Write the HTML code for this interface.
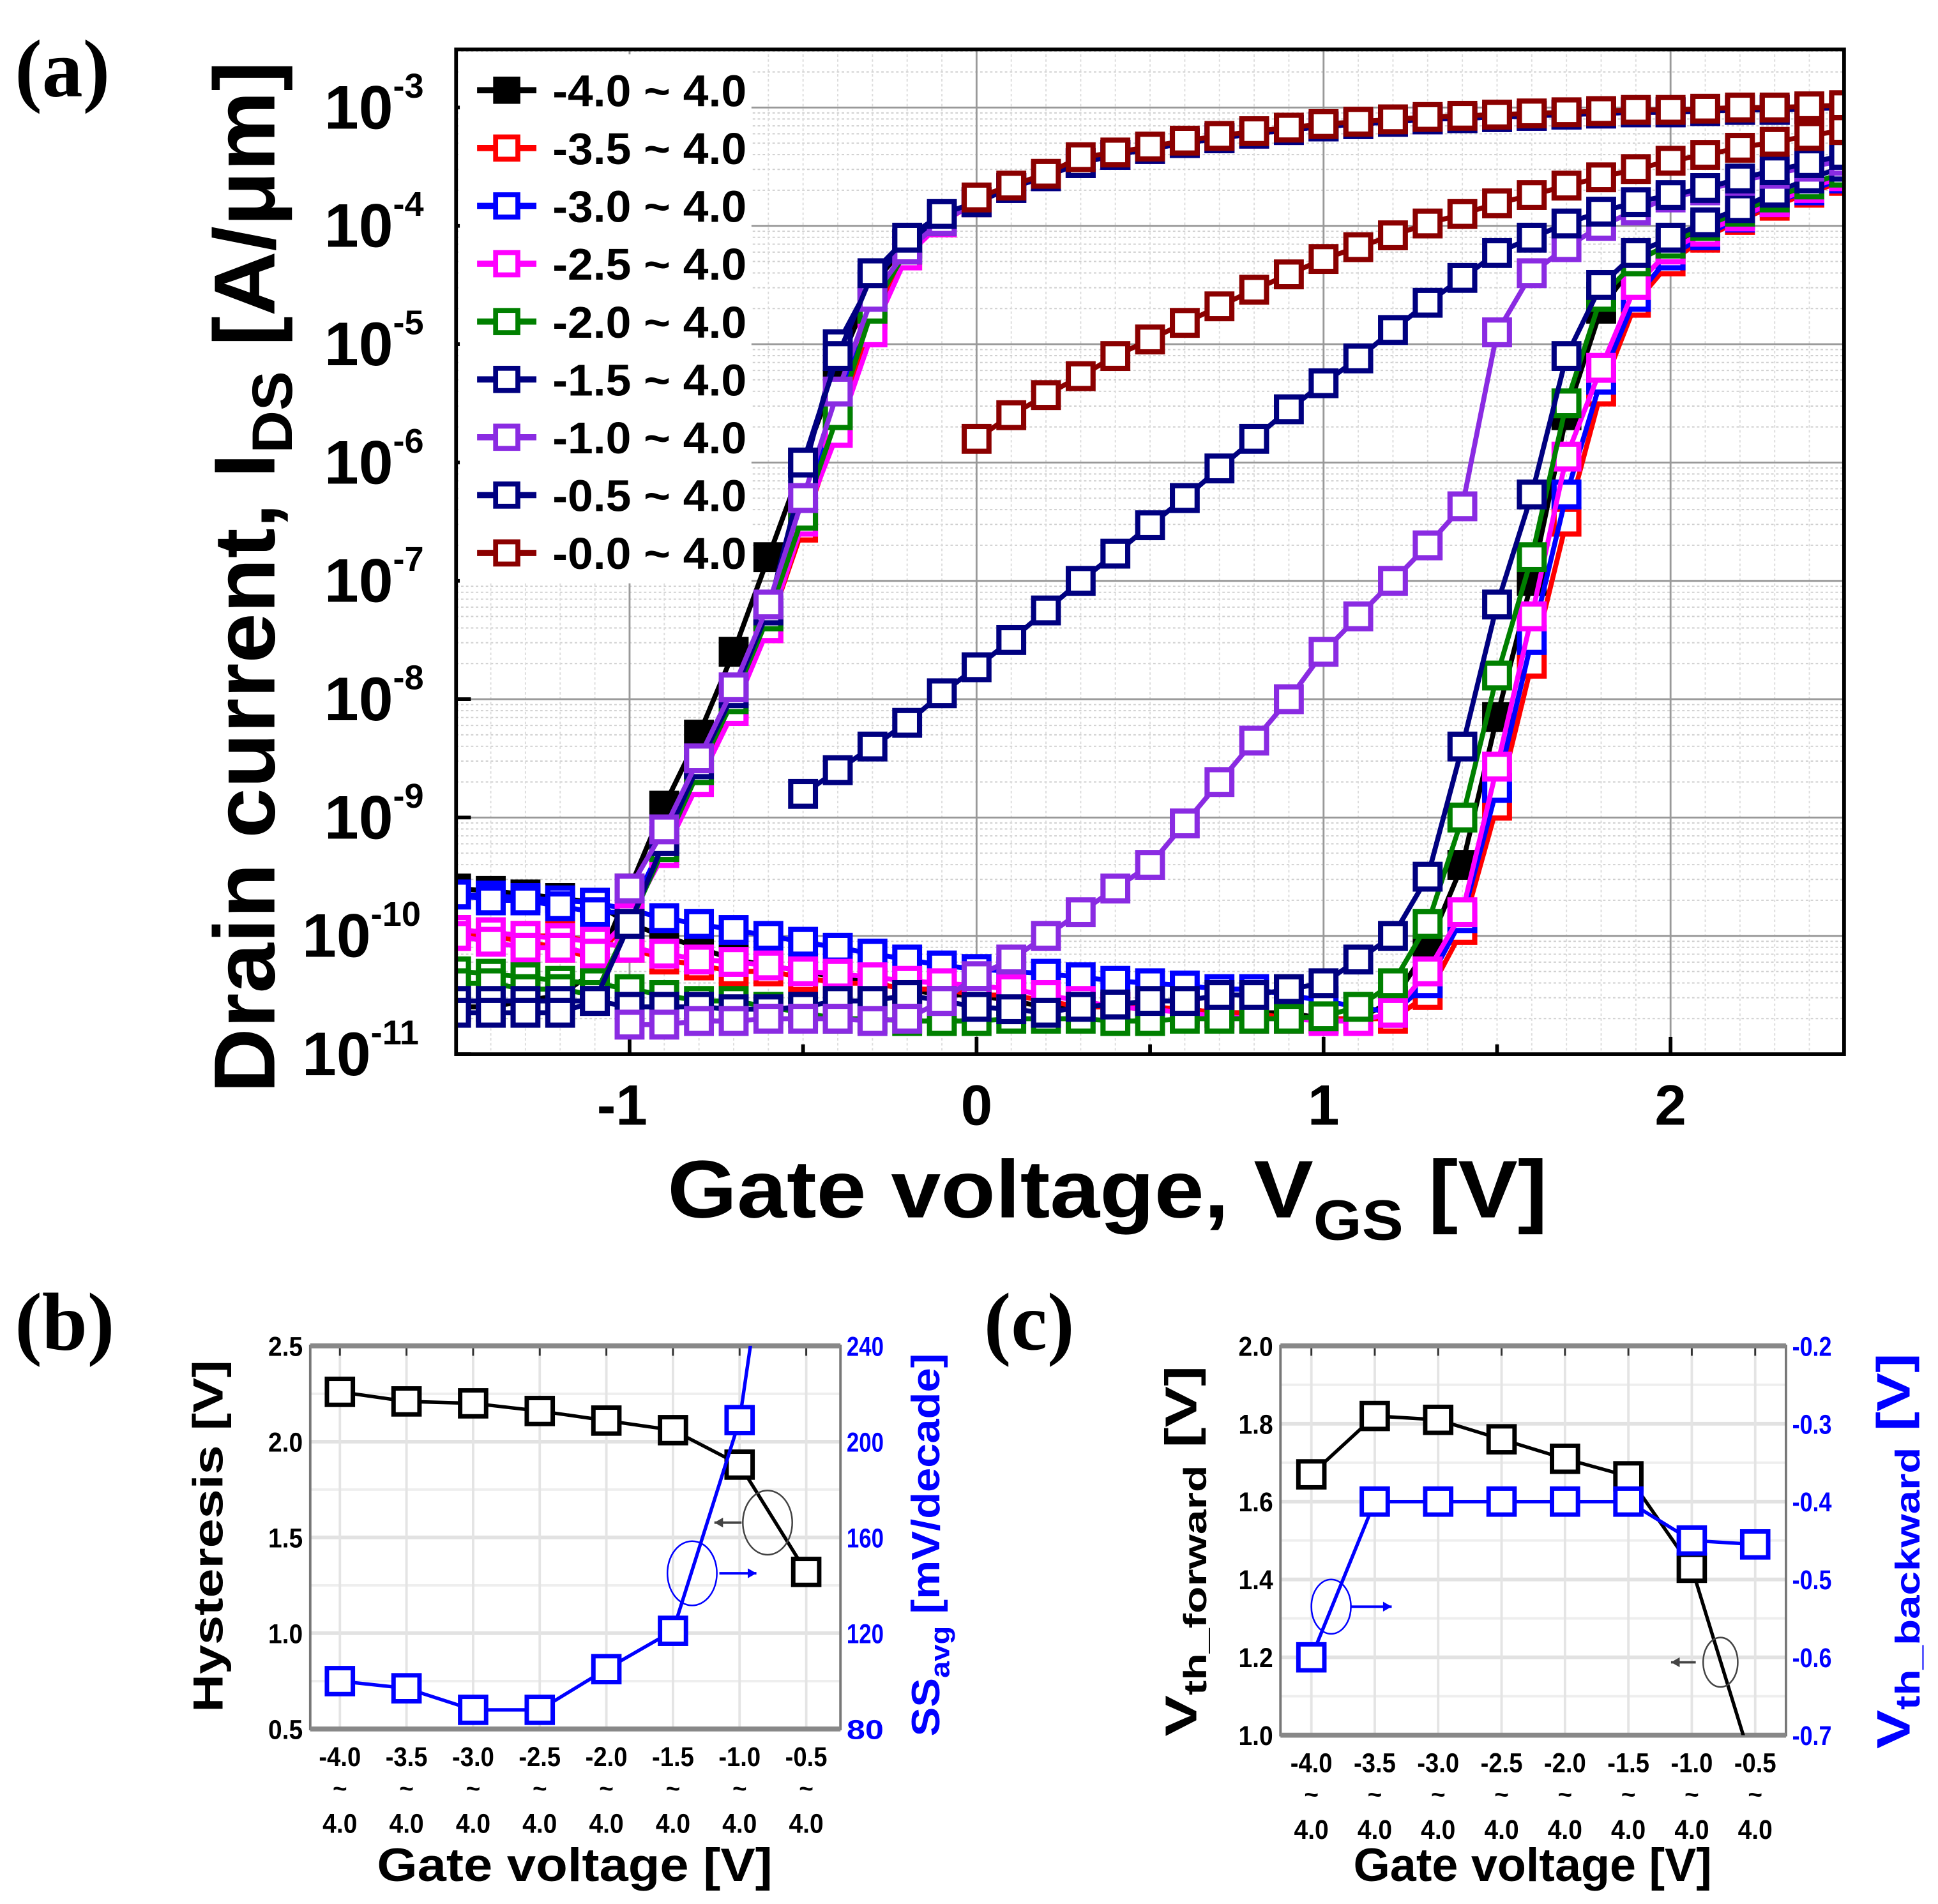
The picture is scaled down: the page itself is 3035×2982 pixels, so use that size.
<!DOCTYPE html>
<html><head><meta charset="utf-8"><style>
html,body{margin:0;padding:0;background:#fff;}
svg{display:block;}
text{font-family:"Liberation Sans",Arial,sans-serif;font-weight:bold;}
</style></head><body>
<svg id="fig" xmlns="http://www.w3.org/2000/svg" width="3035" height="2982" viewBox="0 0 1568 1540.6" preserveAspectRatio="none">
<rect x="0" y="0" width="1568" height="1541" fill="#fff"/>
<defs><clipPath id="clipA"><rect x="369" y="40" width="1123" height="813"/></clipPath>
<clipPath id="clipB"><rect x="251" y="1089" width="429" height="310"/></clipPath>
<clipPath id="clipC"><rect x="1036" y="1089" width="409" height="315"/></clipPath></defs>
<text x="12" y="78" font-size="66" style="font-family:'Liberation Serif',serif">(a)</text>
<text x="12" y="1092" font-size="66" style="font-family:'Liberation Serif',serif">(b)</text>
<text x="796" y="1092" font-size="66" style="font-family:'Liberation Serif',serif">(c)</text>
<g id="gA"></g>
<g id="gB"></g>
<g id="gC"></g>
<text transform="translate(222,467) rotate(-90)" text-anchor="middle" font-size="70" textLength="835" lengthAdjust="spacingAndGlyphs">Drain current, I<tspan font-size="46" dy="14">DS</tspan><tspan dy="-14"> [A/μm]</tspan></text>
<text x="540" y="985" font-size="66" textLength="712" lengthAdjust="spacingAndGlyphs">Gate voltage, V<tspan font-size="46" dy="18">GS</tspan><tspan dy="-18"> [V]</tspan></text>
<text transform="translate(180,1243) rotate(-90)" text-anchor="middle" font-size="34" textLength="285" lengthAdjust="spacingAndGlyphs">Hysteresis [V]</text>
<text transform="translate(760,1250) rotate(-90)" text-anchor="middle" font-size="32" fill="#0000ff" textLength="310" lengthAdjust="spacingAndGlyphs">SS<tspan font-size="22" dy="8">avg</tspan><tspan dy="-8"> [mV/decade]</tspan></text>
<text x="465" y="1522" text-anchor="middle" font-size="38" textLength="320" lengthAdjust="spacingAndGlyphs">Gate voltage [V]</text>
<text transform="translate(968,1255) rotate(-90)" text-anchor="middle" font-size="36" textLength="300" lengthAdjust="spacingAndGlyphs">V<tspan font-size="26" dy="8">th_forward</tspan><tspan dy="-8"> [V]</tspan></text>
<text transform="translate(1545,1255) rotate(-90)" text-anchor="middle" font-size="38" fill="#0000ff" textLength="320" lengthAdjust="spacingAndGlyphs">V<tspan font-size="28" dy="8">th_backward</tspan><tspan dy="-8"> [V]</tspan></text>
<text x="1240" y="1522" text-anchor="middle" font-size="38" textLength="290" lengthAdjust="spacingAndGlyphs">Gate voltage [V]</text>
</svg>
<script>
// ===== Panel (a) data: log10(I_DS) at V = -1.5 ... 2.5 step 0.1 =====
const vStart = -1.5;
const vStep = 0.1;
const seriesLabels = ["-4.0 ~ 4.0","-3.5 ~ 4.0","-3.0 ~ 4.0","-2.5 ~ 4.0","-2.0 ~ 4.0","-1.5 ~ 4.0","-1.0 ~ 4.0","-0.5 ~ 4.0","-0.0 ~ 4.0"];
const seriesColors = ["#000000","#ff0000","#0000ff","#ff00ff","#008000","#000080","#8a2be2","#000080","#8b0000"];
const N = null;
const fwdBlack = [-9.6,-9.62,-9.65,-9.68,-9.72,-9.9,-10.0,-10.1,-10.2,-10.25,-10.3,-10.35,-10.4,-10.45,-10.5,-10.5,-10.55,-10.6,-10.6,-10.6,-10.62,-10.62,-10.65,-10.65,-10.65,-10.7,-10.7,-10.55,-10.1,-9.4,-8.15,-7.0,-5.6,-4.7,-4.3,-4.15,-4.02,-3.9,-3.78,-3.68,-3.58];
const fwdRed = [-9.95,-9.97,-10.0,-10.0,-10.05,-10.1,-10.2,-10.25,-10.3,-10.3,-10.35,-10.4,-10.4,-10.45,-10.45,-10.5,-10.5,-10.55,-10.6,-10.6,-10.6,-10.62,-10.65,-10.65,-10.7,-10.7,-10.7,-10.7,-10.5,-9.95,-8.9,-7.7,-6.5,-5.4,-4.65,-4.3,-4.1,-3.95,-3.83,-3.72,-3.62];
const fwdBlue = [-9.65,-9.66,-9.68,-9.7,-9.72,-9.78,-9.85,-9.9,-9.95,-10.0,-10.05,-10.1,-10.15,-10.2,-10.25,-10.28,-10.3,-10.32,-10.35,-10.38,-10.4,-10.42,-10.45,-10.45,-10.5,-10.55,-10.6,-10.65,-10.4,-9.85,-8.75,-7.5,-6.27,-5.3,-4.6,-4.25,-4.08,-3.93,-3.8,-3.7,-3.6];
const fwdMagenta = [-9.95,-9.97,-10.0,-10.02,-10.05,-10.1,-10.15,-10.2,-10.22,-10.25,-10.3,-10.32,-10.35,-10.38,-10.4,-10.42,-10.45,-10.5,-10.55,-10.6,-10.62,-10.65,-10.68,-10.7,-10.7,-10.72,-10.72,-10.65,-10.3,-9.8,-8.57,-7.3,-5.95,-5.2,-4.5,-4.2,-4.05,-3.92,-3.8,-3.68,-3.58];
const fwdGreen = [-10.3,-10.32,-10.35,-10.38,-10.4,-10.45,-10.5,-10.55,-10.55,-10.6,-10.65,-10.7,-10.7,-10.72,-10.72,-10.72,-10.7,-10.7,-10.7,-10.72,-10.72,-10.7,-10.7,-10.7,-10.7,-10.68,-10.6,-10.4,-9.9,-9.0,-7.8,-6.8,-5.5,-4.6,-4.3,-4.15,-4.0,-3.88,-3.76,-3.65,-3.55];
const fwdNavy15 = [-10.55,-10.55,-10.55,-10.55,-10.55,-10.6,-10.6,-10.6,-10.62,-10.62,-10.6,-10.55,-10.55,-10.5,-10.55,-10.6,-10.62,-10.65,-10.6,-10.58,-10.55,-10.55,-10.5,-10.5,-10.45,-10.4,-10.2,-10.0,-9.5,-8.4,-7.2,-6.27,-5.1,-4.5,-4.23,-4.1,-3.97,-3.85,-3.72,-3.6,-3.5];
const fwdPurple = [N,N,N,N,N,-10.75,-10.75,-10.72,-10.72,-10.7,-10.7,-10.7,-10.72,-10.7,-10.55,-10.34,-10.2,-10.0,-9.8,-9.6,-9.4,-9.05,-8.7,-8.35,-8.0,-7.6,-7.3,-7.0,-6.7,-6.37,-4.9,-4.4,-4.18,-4.0,-3.87,-3.76,-3.7,-3.62,-3.56,-3.5,-3.45];
const fwdNavy05 = [N,N,N,N,N,N,N,N,N,N,-8.8,-8.6,-8.4,-8.2,-7.95,-7.73,-7.5,-7.25,-7.0,-6.77,-6.53,-6.3,-6.05,-5.8,-5.55,-5.33,-5.12,-4.88,-4.65,-4.44,-4.23,-4.1,-3.98,-3.88,-3.8,-3.74,-3.68,-3.6,-3.53,-3.47,-3.4];
const fwdDarkRed = [N,N,N,N,N,N,N,N,N,N,N,N,N,N,N,-5.8,-5.6,-5.43,-5.27,-5.1,-4.96,-4.82,-4.68,-4.54,-4.41,-4.28,-4.18,-4.08,-3.98,-3.9,-3.81,-3.74,-3.66,-3.59,-3.52,-3.45,-3.4,-3.34,-3.29,-3.24,-3.19];
// backward sweep, low-voltage part (V=-1.5..-0.1)
const bwdLowBlack = [-10.6,-10.6,-10.55,-10.5,-10.3,-9.6,-8.9,-8.3,-7.6,-6.8,-6.0,-5.2,-4.5,-4.15,-3.95];
const bwdLowRed = [-10.0,-10.0,-10.05,-10.1,-10.2,-9.85,-9.25,-8.65,-8.05,-7.4,-6.55,-5.7,-4.75,-4.25,-3.97];
const bwdLowBlue = [-9.65,-9.7,-9.7,-9.75,-9.8,-9.8,-9.2,-8.6,-8.0,-7.3,-6.4,-5.55,-4.65,-4.2,-3.96];
const bwdLowMagenta = [-10.0,-10.05,-10.1,-10.1,-10.15,-9.85,-9.3,-8.7,-8.1,-7.4,-6.5,-5.75,-4.9,-4.25,-3.97];
const bwdLowGreen = [-10.4,-10.4,-10.45,-10.45,-10.5,-9.9,-9.25,-8.6,-8.0,-7.3,-6.45,-5.6,-4.7,-4.2,-3.96];
const bwdLowNavy15 = [-10.65,-10.65,-10.65,-10.65,-10.55,-9.9,-9.2,-8.55,-7.95,-7.25,-6.1,-5.0,-4.45,-4.15,-3.93];
const bwdLowPurple = [N,N,N,N,N,-9.6,-9.1,-8.5,-7.9,-7.2,-6.3,-5.4,-4.6,-4.2,-3.96];
const bwdLowNavy05 = [N,N,N,N,N,N,N,N,N,N,-6.0,-5.1,-4.4,-4.1,-3.9];
const bwdLowDarkRed = [N,N,N,N,N,N,N,N,N,N,N,N,N,N,N];
// backward sweep, high part (V=0..2.5)
const bwdHighCommon = [-3.8,-3.68,-3.58,-3.47,-3.4,-3.35,-3.3,-3.26,-3.22,-3.19,-3.16,-3.14,-3.12,-3.1,-3.09,-3.08,-3.07,-3.06,-3.05,-3.04,-3.04,-3.03,-3.02,-3.02,-3.01,-3.0];
const bwdHighDarkRed = [-3.76,-3.66,-3.56,-3.42,-3.38,-3.33,-3.28,-3.24,-3.2,-3.17,-3.14,-3.12,-3.1,-3.08,-3.07,-3.06,-3.05,-3.04,-3.03,-3.02,-3.02,-3.01,-3.0,-3.0,-2.99,-2.98];
const xTicksA = [-1,0,1,2];
const yDecadesA = [-3,-4,-5,-6,-7,-8,-9,-10,-11];

// ===== Panel (b) data =====
const catLabels = ["-4.0","-3.5","-3.0","-2.5","-2.0","-1.5","-1.0","-0.5"];
const hysteresis = [2.26,2.21,2.20,2.16,2.11,2.06,1.88,1.32];
const ssAvg = [100,97,88,88,105,121,209,400];
const bLeftTicks = [0.5,1.0,1.5,2.0,2.5];
const bRightTicks = [80,120,160,200,240];
// ===== Panel (c) data =====
const vthForward = [1.67,1.82,1.81,1.76,1.71,1.665,1.43,0.9];
const vthBackward = [-0.6,-0.4,-0.4,-0.4,-0.4,-0.4,-0.45,-0.455];
const cLeftTicks = [1.0,1.2,1.4,1.6,1.8,2.0];
const cRightTicks = [-0.7,-0.6,-0.5,-0.4,-0.3,-0.2];

const NS = "http://www.w3.org/2000/svg";
function el(tag, parent, attrs){const e=document.createElementNS(NS,tag);for(const k in attrs)e.setAttribute(k,attrs[k]);parent.appendChild(e);return e;}

// ----- Panel A -----
const A = {l:369,r:1492,t:40,b:853,xmin:-1.5,xmax:2.5};
function xA(v){return A.l+(v-A.xmin)/(A.xmax-A.xmin)*(A.r-A.l);}
function yA(L){return 87+(-3-L)*95.75;}
const gA = document.getElementById('gA');
for(let d=-11; d<=-3; d++){for(let m=2;m<=9;m++){const yy=yA(d+Math.log10(m)); if(yy<A.t) continue;
 const g=el('line',gA,{x1:A.l,x2:A.r,y1:yy,y2:yy,stroke:'#cfcfcf','stroke-width':1,'stroke-dasharray':'2,2'});
 
 }}
for(let i=-15;i<=25;i++){const xx=xA(i/10);
 const g=el('line',gA,{x1:xx,x2:xx,y1:A.t,y2:A.b,stroke:'#dcdcdc','stroke-width':1,'stroke-dasharray':'2,2'});
 
 }
yDecadesA.forEach(d=>{const yy=yA(d);
 const g=el('line',gA,{x1:A.l,x2:A.r,y1:yy,y2:yy,stroke:'#999','stroke-width':1.5});
 
 
 const t=el('text',gA,{x:(d<=-10?300:318),y:yy+17,'text-anchor':'end','font-size':50});
 t.textContent='10';
 
 
 const s=el('text',gA,{x:(d<=-10?300:318),y:yy-8,'font-size':28});
 s.textContent=String(d);
 
 
 const tk=el('line',gA,{x1:A.l,x2:A.l+12,y1:yy,y2:yy,stroke:'#000','stroke-width':3});
 
 
});
xTicksA.forEach(v=>{const xx=xA(v);
 const g=el('line',gA,{x1:xx,x2:xx,y1:A.t,y2:A.b,stroke:'#999','stroke-width':1.5});
 
 
 const t=el('text',gA,{x:xx-(v<0?6:0),y:910,'text-anchor':'middle','font-size':46});
 t.textContent=String(v);
 
 
 const tk=el('line',gA,{x1:xx,x2:xx,y1:A.b,y2:A.b-14,stroke:'#000','stroke-width':3});
 
 });
[-0.5,0.5,1.5].forEach(v=>{const tk=el('line',gA,{x1:xA(v),x2:xA(v),y1:A.b,y2:A.b-8,stroke:'#000','stroke-width':3});
 
 });
const lbg=el('rect',gA,{x:372,y:44,width:236,height:428,fill:'#fff'});


const fwdAll=[fwdBlack,fwdRed,fwdBlue,fwdMagenta,fwdGreen,fwdNavy15,fwdPurple,fwdNavy05,fwdDarkRed];
const bwdLowAll=[bwdLowBlack,bwdLowRed,bwdLowBlue,bwdLowMagenta,bwdLowGreen,bwdLowNavy15,bwdLowPurple,bwdLowNavy05,bwdLowDarkRed];
const plotA=el('g',gA,{'clip-path':'url(#clipA)'});


function drawBranch(arr,color,filled,name){
 const pts=[];arr.forEach((L,i)=>{if(L===null||L===undefined)return;pts.push([xA(vStart+i*vStep),yA(L)]);});
 const p=el('polyline',plotA,{points:pts.map(q=>q.join(',')).join(' '),fill:'none',stroke:color,'stroke-width':4});
 
 
 pts.forEach(q=>{const r=el('rect',plotA,{x:q[0]-10,y:q[1]-10,width:20,height:20,fill:filled?color:'#fff',stroke:color,'stroke-width':4.2});
  
  });
}
for(let s=0;s<9;s++){
 const high = s===8?bwdHighDarkRed:bwdHighCommon;
 const bwd = bwdLowAll[s].concat(high);
 const nm='series-'+seriesLabels[s].replace(/[^0-9.-]+/g,'_');
 drawBranch(fwdAll[s],seriesColors[s],s===0,nm+'-forward');
 drawBranch(bwd,seriesColors[s],s===0,nm+'-backward');
}
seriesLabels.forEach((lab,i)=>{const yy=73+i*46.8;
 const g=el('g',gA,{});
 
 
 el('line',g,{x1:386,x2:434,y1:yy,y2:yy,stroke:seriesColors[i],'stroke-width':5});
 el('rect',g,{x:401,y:yy-9,width:18,height:18,fill:i===0?'#000':'#fff',stroke:seriesColors[i],'stroke-width':4});
 const t=el('text',g,{x:447,y:yy+13,'font-size':36,textLength:157,lengthAdjust:'spacingAndGlyphs'});
 t.textContent=lab;
});
const fa=el('rect',gA,{x:A.l,y:A.t,width:A.r-A.l,height:A.b-A.t,fill:'none',stroke:'#000','stroke-width':3});



// ----- Panels B & C -----
function smallPanel(g,P,cats,leftTicks,rightTicks,leftFmt,rightFmt,leftVals,rightVals,clip){
 const xc=i=>P.x0+i*P.dx;
 const yl=v=>P.b-(v-P.lmin)/(P.lmax-P.lmin)*(P.b-P.t);
 const yr=v=>P.b-(v-P.rmin)/(P.rmax-P.rmin)*(P.b-P.t);
 leftTicks.forEach(v=>{const yy=yl(v);
  const gl=el('line',g,{x1:P.l,x2:P.r,y1:yy,y2:yy,stroke:'#e2e2e2','stroke-width':3});
  
  
  const t=el('text',g,{x:P.l-6,y:yy+8,'text-anchor':'end','font-size':22,textLength:28,lengthAdjust:'spacingAndGlyphs'});
  t.textContent=leftFmt(v);
  
  });
 for(let k=0;k<leftTicks.length-1;k++){const yy=yl((leftTicks[k]+leftTicks[k+1])/2);
  const gl=el('line',g,{x1:P.l,x2:P.r,y1:yy,y2:yy,stroke:'#eeeeee','stroke-width':2});
  
  }
 rightTicks.forEach(v=>{const yy=yr(v);
  const t=el('text',g,{x:P.r+5,y:yy+8,'font-size':22,fill:'#0000ff',textLength:P.rw,lengthAdjust:'spacingAndGlyphs'});
  t.textContent=rightFmt(v);
  
  });
 cats.forEach((c,i)=>{const xx=xc(i);
  const gl=el('line',g,{x1:xx,x2:xx,y1:P.t,y2:P.b,stroke:'#e4e4e4','stroke-width':2});
  
  
  const tk=el('line',g,{x1:xx,x2:xx,y1:P.t,y2:P.t+8,stroke:'#333','stroke-width':1.5});
  
  
  const t1=el('text',g,{x:xx,y:P.b+30,'text-anchor':'middle','font-size':22,textLength:34,lengthAdjust:'spacingAndGlyphs'});
  t1.textContent=c;
  
  
  const t2=el('text',g,{x:xx,y:P.b+55,'text-anchor':'middle','font-size':20});
  t2.textContent='~';
  
  
  const t3=el('text',g,{x:xx,y:P.b+84,'text-anchor':'middle','font-size':22,textLength:28,lengthAdjust:'spacingAndGlyphs'});
  t3.textContent='4.0';
  
  });
 const fr=el('rect',g,{x:P.l,y:P.t,width:P.r-P.l,height:P.b-P.t,fill:'none',stroke:'#777','stroke-width':2});
 
 
 const bx=el('line',g,{x1:P.l,x2:P.r,y1:P.b,y2:P.b,stroke:'#888','stroke-width':4});
 
 
 const tx=el('line',g,{x1:P.l,x2:P.r,y1:P.t,y2:P.t,stroke:'#888','stroke-width':4});
 
 
 const pg=el('g',g,{'clip-path':'url(#'+clip+')'});
 
 
 function series(vals,yf,color,name){
  const pts=vals.map((v,i)=>[xc(i),yf(v)]);
  const pl=el('polyline',pg,{points:pts.map(q=>q.join(',')).join(' '),fill:'none',stroke:color,'stroke-width':2.8});
  
  
  pts.forEach(q=>{const r=el('rect',pg,{x:q[0]-10.5,y:q[1]-10.5,width:21,height:21,fill:'#fff',stroke:color,'stroke-width':3.6});
   
   });
 }
 series(leftVals[0],yl,'#000',leftVals[1]);
 series(rightVals[0],yr,'#0000ff',rightVals[1]);
}
const gB=document.getElementById('gB');
smallPanel(gB,{l:251,r:680,t:1089,b:1399,x0:275,dx:53.9,lmin:0.5,lmax:2.5,rmin:80,rmax:240,rw:30},catLabels,bLeftTicks,bRightTicks,v=>v.toFixed(1),v=>String(v),[hysteresis,'hysteresis'],[ssAvg,'ss-avg'],'clipB');
const gC=document.getElementById('gC');
smallPanel(gC,{l:1036,r:1445,t:1089,b:1404,x0:1061,dx:51.3,lmin:1.0,lmax:2.0,rmin:-0.7,rmax:-0.2,rw:32},catLabels,cLeftTicks,cRightTicks,v=>v.toFixed(1),v=>v.toFixed(1),[vthForward,'vth-forward'],[vthBackward,'vth-backward'],'clipC');
function annot(g,cx,cy,rx,ry,color,ax1,ax2,name){
 const e=el('ellipse',g,{cx:cx,cy:cy,rx:rx,ry:ry,fill:'none',stroke:color,'stroke-width':1.3});
 
 
 const l=el('line',g,{x1:ax1,x2:ax2,y1:cy,y2:cy,stroke:color,'stroke-width':2});
 
 
 const dir=ax2>ax1?1:-1;
 const h=el('polygon',g,{points:`${ax2},${cy} ${ax2-dir*7},${cy-4} ${ax2-dir*7},${cy+4}`,fill:color});
 
 
}
annot(gB,621,1232,20,26,'#444',600,578,'left-axis-indicator');
annot(gB,560,1273,20,26,'#0000ff',582,612,'right-axis-indicator');
annot(gC,1077,1300,16,22,'#0000ff',1093,1126,'right-axis-indicator');
annot(gC,1392,1345,14,20,'#444',1372,1352,'left-axis-indicator');
</script>
</body></html>
